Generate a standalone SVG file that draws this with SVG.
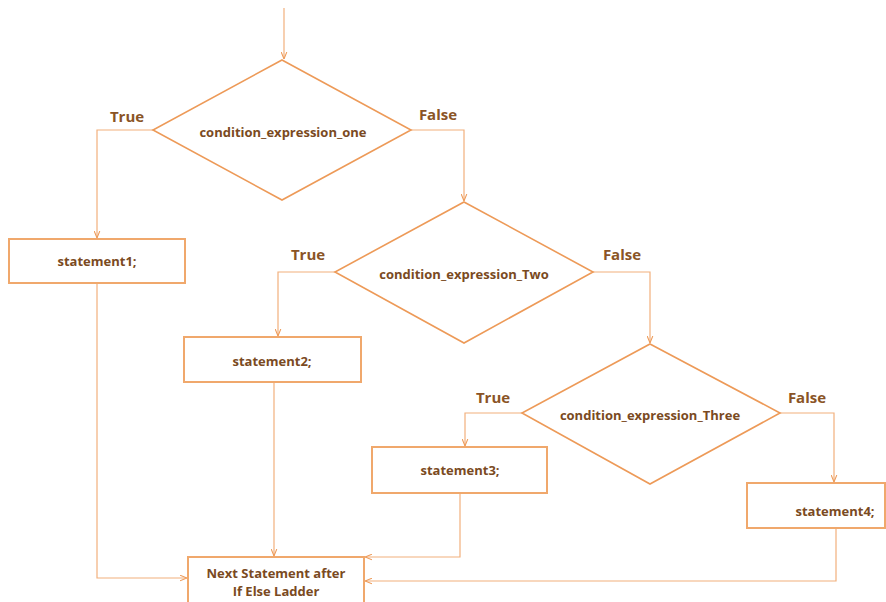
<svg xmlns="http://www.w3.org/2000/svg" width="886" height="602" viewBox="0 0 886 602">
<defs>
<style>
.shape{fill:#fff;stroke:#ED9A58;stroke-width:1.6}
.box{fill:#fff;stroke:#F0A86C;stroke-width:2}
.conn{fill:none;stroke:#F2B07C;stroke-width:1.2}
.t{font-family:"Open Sans","Liberation Sans",sans-serif;font-weight:bold;fill:#7A4A22;text-anchor:middle}
.c{font-size:13px}
.lbl{font-family:"Open Sans","Liberation Sans",sans-serif;font-weight:bold;fill:#8A5426;font-size:15px;text-anchor:middle}
</style>
<marker id="ah" viewBox="0 0 10 10" refX="10" refY="5" markerWidth="7" markerHeight="7" orient="auto" markerUnits="userSpaceOnUse">
<path d="M0,1 L10,5 L0,9" fill="none" stroke="#ED9A58" stroke-width="1.5"/>
</marker>
</defs>
<rect width="886" height="602" fill="#fff"/>
<g id="connectors">
<path class="conn" d="M284,8 V59" marker-end="url(#ah)"/>
<path class="conn" d="M153,130 H97 V238" marker-end="url(#ah)"/>
<path class="conn" d="M411,130 H464 V201" marker-end="url(#ah)"/>
<path class="conn" d="M335,272 H278 V336" marker-end="url(#ah)"/>
<path class="conn" d="M593,272 H650 V343" marker-end="url(#ah)"/>
<path class="conn" d="M522,413 H465 V446" marker-end="url(#ah)"/>
<path class="conn" d="M780,413 H834 V482" marker-end="url(#ah)"/>
<path class="conn" d="M97,283 V578 H187" marker-end="url(#ah)"/>
<path class="conn" d="M274,382 V556" marker-end="url(#ah)"/>
<path class="conn" d="M460,493 V557 H365" marker-end="url(#ah)"/>
<path class="conn" d="M836,528 V581 H365" marker-end="url(#ah)"/>
</g>
<g id="labels">
<text class="lbl" x="127" y="122">True</text>
<text class="lbl" x="438" y="120">False</text>
<text class="lbl" x="308" y="260">True</text>
<text class="lbl" x="622" y="260">False</text>
<text class="lbl" x="493" y="403">True</text>
<text class="lbl" x="807" y="403">False</text>
</g>
<g id="cond1">
<polygon class="shape" points="282,60 411,130 282,200 153,130"/>
<text class="t c" x="283" y="137">condition_expression_one</text>
</g>
<g id="stmt1">
<rect class="box" x="9" y="239" width="176" height="44"/>
<text class="t c" x="97" y="266">statement1;</text>
</g>
<g id="cond2">
<polygon class="shape" points="464,202 593,272 464,343 335,272"/>
<text class="t c" x="464" y="279">condition_expression_Two</text>
</g>
<g id="stmt2">
<rect class="box" x="184" y="337" width="177" height="45"/>
<text class="t c" x="272" y="366">statement2;</text>
</g>
<g id="cond3">
<polygon class="shape" points="650,344 780,413 650,484 522,413"/>
<text class="t c" x="650" y="420">condition_expression_Three</text>
</g>
<g id="stmt3">
<rect class="box" x="372" y="447" width="175" height="46"/>
<text class="t c" x="460" y="475">statement3;</text>
</g>
<g id="stmt4">
<rect class="box" x="747" y="483" width="138" height="45"/>
<text class="t c" x="835" y="516">statement4;</text>
</g>
<g id="next">
<rect class="box" x="188" y="557" width="176" height="50"/>
<text class="t c" x="276" y="578">Next Statement after</text>
<text class="t c" x="276" y="596">If Else Ladder</text>
</g>
</svg>
